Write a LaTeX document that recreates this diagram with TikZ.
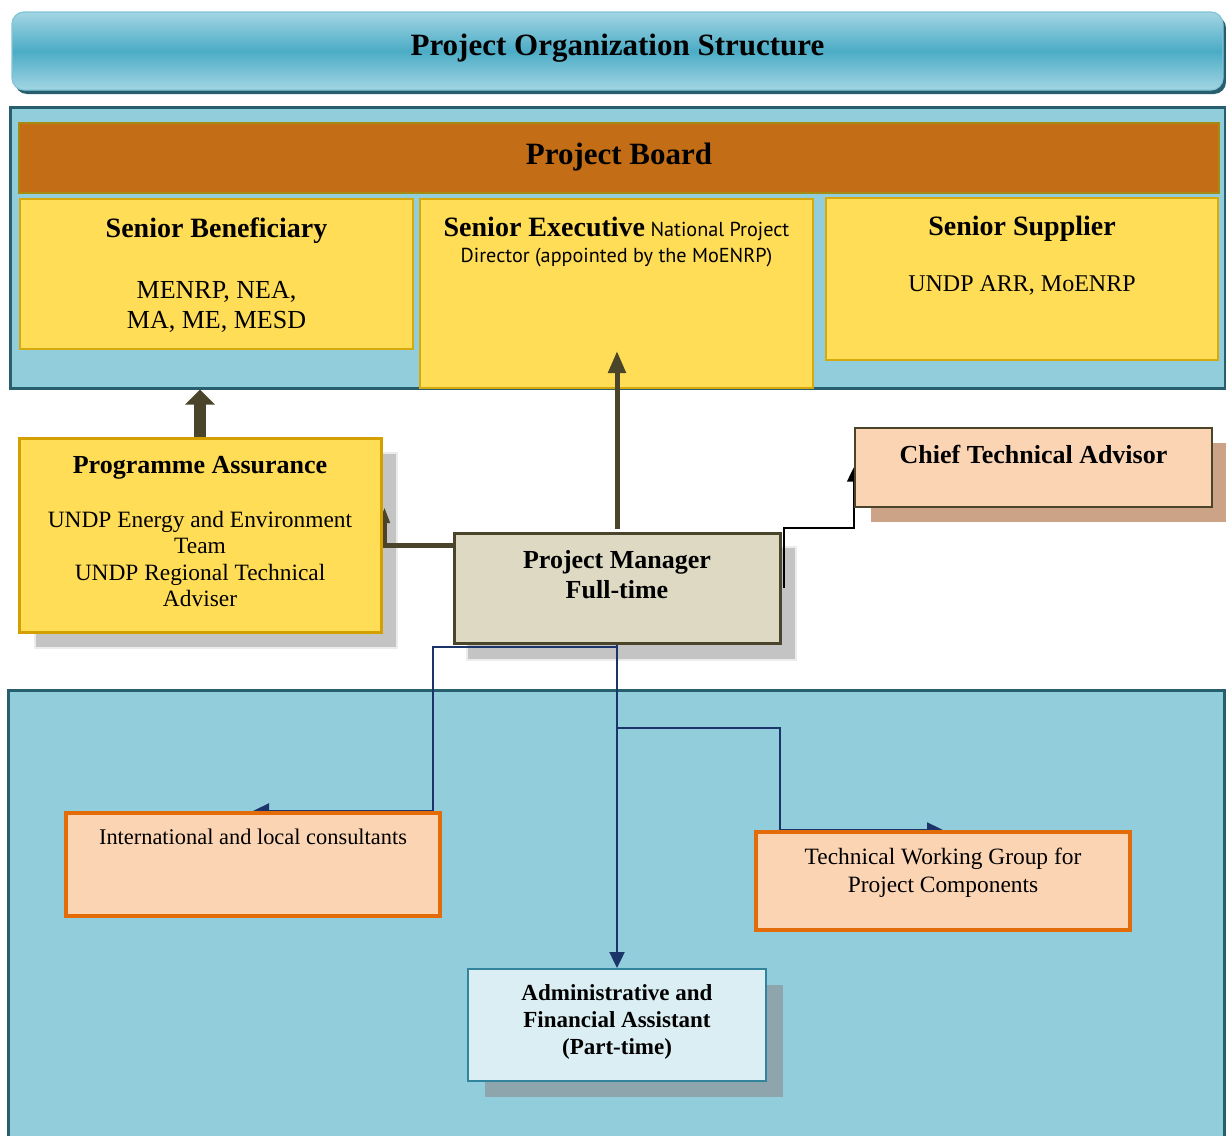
\documentclass[tikz,border=0pt]{standalone}
\usepackage{fontspec}
\setmainfont{Liberation Serif}
\newfontfamily\myriadsans{PT Sans}
\usetikzlibrary{positioning,fit,calc,arrows.meta}
\pgfdeclarelayer{back}
\pgfdeclarelayer{wires}
\pgfsetlayers{back,wires,main}
\newcommand{\fsz}[2]{\fontsize{#1}{#2}\selectfont}

\definecolor{panelfill}{HTML}{92CDDC}
\definecolor{panelline}{HTML}{275F6E}
\definecolor{bannermid}{HTML}{4BACC6}
\definecolor{bannerlight}{HTML}{A3D5E3}
\definecolor{boardfill}{HTML}{C36E17}
\definecolor{boardline}{HTML}{A58B12}
\definecolor{seniorfill}{HTML}{FFDD57}
\definecolor{seniorline}{HTML}{D6A90C}
\definecolor{goldline}{HTML}{D4A000}
\definecolor{pmolive}{HTML}{4A452A}
\definecolor{pmfill}{HTML}{DDD9C3}
\definecolor{peach}{HTML}{FBD4B4}
\definecolor{orangeline}{HTML}{E36C09}
\definecolor{adminfill}{HTML}{DBEEF3}
\definecolor{adminline}{HTML}{31849B}
\definecolor{navyline}{HTML}{1B356A}
\definecolor{greyshade}{HTML}{C4C4C4}
\definecolor{peachshade}{HTML}{CDA387}
\definecolor{blueshade}{HTML}{8EA5AD}

\begin{document}
\begin{tikzpicture}[x=0.5pt, y=-0.5pt,
    panel/.style={draw=panelline, line width=1.5pt, fill=panelfill, inner sep=0pt},
    seniorbox/.style={draw=seniorline, line width=1pt, fill=seniorfill, inner sep=0pt},
    shadebox/.style={fill=#1, draw=white!85!gray, line width=0.6pt, inner sep=0pt},
    peachbox/.style={draw=orangeline, line width=2pt, fill=peach, inner sep=0pt},
    txt/.style={inner sep=0pt, align=center},
    blockarrow/.style={draw=pmolive, line width=6pt, -{Triangle[width=14.5pt,length=7.5pt]}},
    thickarrow/.style={draw=pmolive, line width=2.5pt, -{Triangle[width=8.5pt,length=11pt]}},
    paline/.style={draw=pmolive, line width=2.5pt, -{Triangle[width=5pt,length=8pt]}},
    ctaline/.style={draw=black, line width=1pt, -{Triangle[width=6.5pt,length=7pt]}},
    navyarrow/.style={draw=navyline, line width=1.2pt, -{Triangle[width=7.5pt,length=8pt]}}]

\useasboundingbox (0,0) rectangle (1226,1135);

\begin{pgfonlayer}{back}
\node[fit={(15,16) (1226,94)}, inner sep=0pt, fill=panelline, rounded corners=6pt] (bannershadow) {};
\node[fit={(12,12) (1223,90)}, inner sep=0pt, rounded corners=6pt, top color=bannerlight,
      bottom color=bannerlight, middle color=bannermid, draw=bannermid!70!white, line width=0.6pt] (banner) {};

\node[panel, fit={(10,107) (1225,388)}] (upper) {};
\node[fit={(19,123) (1219,193)}, inner sep=0pt, fill=boardfill, draw=boardline, line width=1pt] (board) {};
\node[seniorbox, fit={(20,199) (413,349)}] (SB) {};
\node[seniorbox, fit={(420,199) (813,388)}] (SE) {};
\node[seniorbox, fit={(826,198) (1218,360)}] (SS) {};

\node[panel, fit={(8,690) (1224,1150)}] (lower) {};

\node[shadebox=greyshade, fit={(35,453) (397,648)}] (PAshadow) {};
\node[shadebox=greyshade, fit={(467,547) (796,660)}] (PMshadow) {};
\node[shadebox=peachshade, draw=none, fit={(871,443) (1232,522)}] (CTAshadow) {};
\node[shadebox=blueshade, draw=none, fit={(485,985) (783,1097)}] (adminshadow) {};
\end{pgfonlayer}

\node[txt, font=\fsz{15.5}{18}\bfseries] (bannertitle) at ([yshift=1.5pt]banner.center) {Project Organization Structure};
\node[txt, font=\fsz{15.5}{18}\bfseries] (boardtitle) at ([yshift=0.5pt]board.center) {Project Board};

\node[txt, font=\fsz{14}{16}\bfseries, below=9.8pt of SB.north] (SBhead) {Senior Beneficiary};
\node[txt, font=\fsz{13}{15}, below=41.5pt of SB.north] (SBbody) {MENRP, NEA,\\MA, ME, MESD};
\node[txt, font=\fsz{11}{13}, below=9.5pt of SE.north] (SEhead)
    {{\fsz{14}{16}\bfseries Senior Executive} {\myriadsans\fsz{10.1}{12}National Project}};
\node[txt, font=\myriadsans\fsz{10.1}{12}, below=25pt of SE.north] (SEbody) {Director (appointed by the MoENRP)};
\node[txt, font=\fsz{14}{16}\bfseries, below=9.3pt of SS.north] (SShead) {Senior Supplier};
\node[txt, font=\fsz{12}{14}, below=39pt of SS.north] (SSbody) {UNDP ARR, MoENRP};

\node[fit={(19,438) (381,632)}, inner sep=0pt, fill=seniorfill, draw=goldline, line width=1.5pt] (PA) {};
\node[txt, font=\fsz{13}{15}\bfseries, below=9.7pt of PA.north] (PAhead) {Programme Assurance};
\node[txt, font=\fsz{11.7}{13.3}, below=37pt of PA.north] (PAbody)
    {UNDP Energy and Environment\\Team\\UNDP Regional Technical\\Adviser};

\node[fit={(454,533) (780,643)}, inner sep=0pt, fill=pmfill, draw=pmolive, line width=1.5pt] (PM) {};
\node[txt, font=\fsz{13}{15}\bfseries, below=9.2pt of PM.north] (PMtext) {Project Manager\\Full-time};

\node[fit={(855,428) (1212,507)}, inner sep=0pt, fill=peach, draw=pmolive, line width=1.3pt] (CTA) {};
\node[txt, font=\fsz{13}{15}\bfseries, below=9.2pt of CTA.north] (CTAtext) {Chief Technical Advisor};

\node[peachbox, fit={(66,813) (440,916)}] (cons) {};
\node[txt, font=\fsz{11.2}{13}, below=8.8pt of cons.north] (constext) {International and local consultants};

\node[peachbox, fit={(756,832) (1130,930)}] (TWG) {};
\node[txt, font=\fsz{11.7}{14}, below=9pt of TWG.north] (TWGtext) {Technical Working Group for\\Project Components};

\node[fit={(468,969) (766,1081)}, inner sep=0pt, fill=adminfill, draw=adminline, line width=1pt] (admin) {};
\node[txt, font=\fsz{11.5}{13.5}\bfseries, below=8.2pt of admin.north] (admintext)
    {Administrative and\\Financial Assistant\\(Part-time)};

\coordinate (setip) at ($(SE.south)+(0,-38)$);
\coordinate (paport) at ($(PA.east)+(2,-28)$);
\coordinate (ctabend) at (818,528);
\coordinate (consbend) at (433,811);
\coordinate (twgsplit) at (617,728);
\coordinate (twgbend) at (780,830);

\begin{pgfonlayer}{wires}
\draw[blockarrow] (PA.north) -- (PA.north |- upper.south);
\draw[thickarrow] ([yshift=1.5pt]PM.north) -- (PM.north |- setip);
\draw[paline] ([yshift=-7pt]PM.north west) -| (paport);
\draw[ctaline] ([xshift=1pt]PM.east) |- (ctabend) -| (CTA.west);
\draw[navyarrow] (PM.south) -- (admin.north);
\draw[navyarrow] ([yshift=-1.3pt]PM.south) -| (consbend) -- (consbend -| cons.north);
\draw[navyarrow] (twgsplit) -| (twgbend) -- (twgbend -| TWG.north);
\end{pgfonlayer}
\end{tikzpicture}
\end{document}
